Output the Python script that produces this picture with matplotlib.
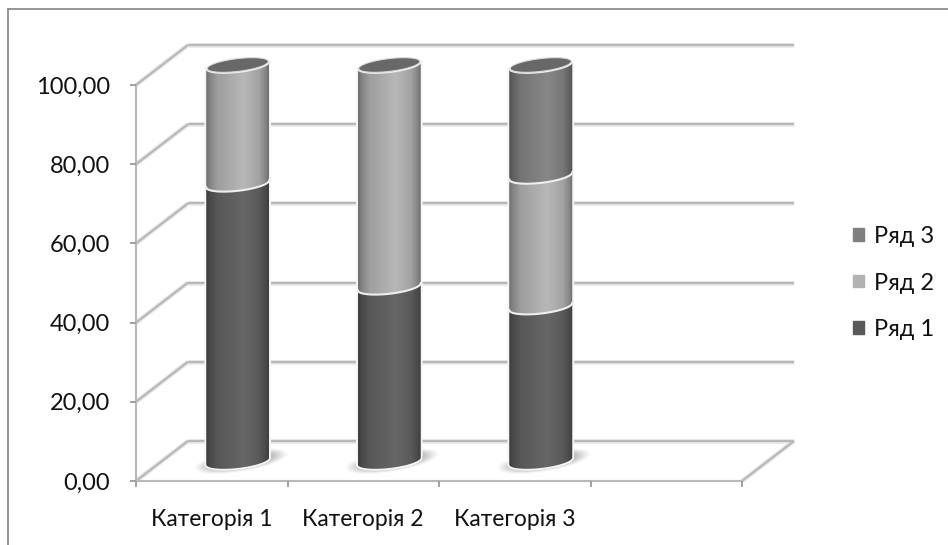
import numpy as np
import matplotlib
matplotlib.use("Agg")
import matplotlib.pyplot as plt
from matplotlib.patches import Patch, Polygon

plt.rcParams["font.family"] = ["Lato", "Open Sans", "DejaVu Sans"]

categories = ["Категорія 1", "Категорія 2", "Категорія 3"]
series_names = ["Ряд 1", "Ряд 2", "Ряд 3"]
series_1 = [70, 44, 39]
series_2 = [30, 56, 33]
series_3 = [0, 0, 28]
value_ticks = [0, 20, 40, 60, 80, 100]

W, H = 948, 545
PX_X = 151.5     # pixels per category
PX_Y = 3.96      # pixels per value unit
ORIGIN_X = 136
ORIGIN_Y = 481

# oblique depth of the fake 3d box, in data units
DEPTH_X = 52 / PX_X
DEPTH_Y = 40 / PX_Y

# cylinder shape
HALF_W = 31.5 / PX_X
ARC_B = 7 / PX_Y
ARC_TILT = 3.5 / PX_Y

GRID = "#b8b8b8"
COLORS = [0.40, 0.72, 0.53]
PROFILE_X = [0, 0.06, 0.18, 0.6, 0.85, 0.95, 1]
PROFILE_Y = [0.60, 0.72, 0.86, 1.0, 0.88, 0.72, 0.60]

fig = plt.figure(figsize=(W / 100, H / 100), dpi=100)
ax = fig.add_axes([0, 0, 1, 1])
xlim = (-ORIGIN_X / PX_X, (W - ORIGIN_X) / PX_X)
ylim = ((ORIGIN_Y - H) / PX_Y, ORIGIN_Y / PX_Y)


def wall_line(x, y):
    # soft halo first, then the line itself
    ax.plot(x, y, color="#e8e8e8", lw=3.4, zorder=1, solid_capstyle="butt")
    ax.plot(x, y, color=GRID, lw=1.6, zorder=1.1, solid_capstyle="butt")


def arc(cx, y):
    t = np.linspace(np.pi, 2 * np.pi, 50)
    return cx + HALF_W * np.cos(t), y + ARC_B * np.sin(t) + ARC_TILT * np.cos(t)


n_cat = 4
for v in value_ticks:
    wall_line([0, DEPTH_X], [v, v + DEPTH_Y])
    wall_line([DEPTH_X, n_cat + DEPTH_X], [v + DEPTH_Y, v + DEPTH_Y])
wall_line([n_cat, n_cat + DEPTH_X], [0, DEPTH_Y])


def draw_cylinder(cx, values):
    base = DEPTH_Y / 2

    # shadow on the floor
    half_x, half_y = 50 / PX_X, 16 / PX_Y
    u, w = np.meshgrid(np.linspace(-half_x, half_x, 200), np.linspace(-half_y, half_y, 80))
    r = (u / (48 / PX_X)) ** 2 + ((w - u * ARC_TILT / HALF_W * 1.4) / (11 / PX_Y)) ** 2
    shade = np.zeros(u.shape + (4,))
    shade[..., :3] = 0.42
    shade[..., 3] = np.clip(1 - r, 0, 1) ** 1.3 * 0.9
    ax.imshow(shade, extent=(cx + 3 / PX_X - half_x, cx + 3 / PX_X + half_x,
                             base - half_y, base + half_y),
              origin="lower", aspect="auto", zorder=2, interpolation="bilinear")

    bottom = base
    for grey, value in zip(COLORS, values):
        if value == 0:
            continue
        top = bottom + value
        x0, y0 = arc(cx, bottom)
        x1, y1 = arc(cx, top)
        xy = np.column_stack([np.r_[x0, x1[::-1]], np.r_[y0, y1[::-1]]])

        # pale outline keeps the gridlines off the cylinder
        ax.add_patch(Polygon(xy, closed=True, fc="none", ec="#f6f6f6", lw=2.6, zorder=3))
        clip = Polygon(xy, closed=True, fc="none", ec="none", zorder=4)
        ax.add_patch(clip)
        shade = grey * np.interp(np.linspace(0, 1, 128), PROFILE_X, PROFILE_Y)
        im = ax.imshow(shade[None, :], extent=(cx - HALF_W, cx + HALF_W, bottom - 5, top + 5),
                       cmap="gray", vmin=0, vmax=1, aspect="auto", zorder=4)
        im.set_clip_path(clip)
        bottom = top

    # light rim on each joint, then the cap
    bottom = base
    for value in values:
        if value == 0:
            continue
        bottom += value
        ax.plot(*arc(cx, bottom), color="#efefef", lw=1.5, zorder=5)
    t = np.linspace(0, 2 * np.pi, 80)
    cap_x = cx + HALF_W * 0.97 * np.cos(t)
    cap_y = bottom + ARC_B * 0.92 * np.sin(t) + ARC_TILT * np.cos(t)
    ax.fill(cap_x, cap_y, color="#686868", ec="#dcdcdc", lw=0.8, zorder=5)


for i in range(len(categories)):
    draw_cylinder(i + 0.5 + DEPTH_X / 2, [series_1[i], series_2[i], series_3[i]])

# outer chart border, open on the right and bottom
ax.plot([xlim[0] + 8 / PX_X, xlim[0] + 8 / PX_X], [ylim[0], ylim[1] - 9 / PX_Y],
        color="#8c8c8c", lw=1.3, zorder=1)
ax.plot([xlim[0] + 8 / PX_X, xlim[1]], [ylim[1] - 9 / PX_Y] * 2,
        color="#8c8c8c", lw=1.3, zorder=1)

ax.set_xlim(xlim)
ax.set_ylim(ylim)
ax.patch.set_alpha(0)

for side in ("top", "right"):
    ax.spines[side].set_visible(False)
ax.spines["left"].set_position(("data", 0))
ax.spines["bottom"].set_position(("data", 0))
ax.spines["left"].set_bounds(0, 100)
ax.spines["bottom"].set_bounds(0, n_cat)
for side in ("left", "bottom"):
    ax.spines[side].set_color(GRID)
    ax.spines[side].set_linewidth(1.5)
    ax.spines[side].set_zorder(1.5)

ax.set_yticks(value_ticks, [f"{v:.2f}".replace(".", ",") for v in value_ticks])
ax.set_xticks(range(n_cat + 1), [""] * (n_cat + 1))
ax.set_xticks([i + 0.5 for i in range(len(categories))], categories, minor=True)
ax.tick_params(axis="y", length=4.5, width=1.3, color="#9a9a9a", labelsize=17, pad=14, labelcolor="#111111")
ax.tick_params(axis="x", which="major", length=4.5, width=1.3, color="#9a9a9a")
ax.tick_params(axis="x", which="minor", length=0, labelsize=16.5, pad=20.5, labelcolor="#111111")

handles = [Patch(color="#7f7f7f"), Patch(color="#b2b2b2"), Patch(color="#595959")]
ax.legend(handles, series_names[::-1], loc="center left", bbox_to_anchor=(853 / W, 1 - 283 / H),
          frameon=False, fontsize=17, handlelength=0.45, handleheight=0.45, handletextpad=0.42,
          labelspacing=1.07, borderpad=0, borderaxespad=0, labelcolor="#111111")

fig.savefig("out.png", dpi=100)
